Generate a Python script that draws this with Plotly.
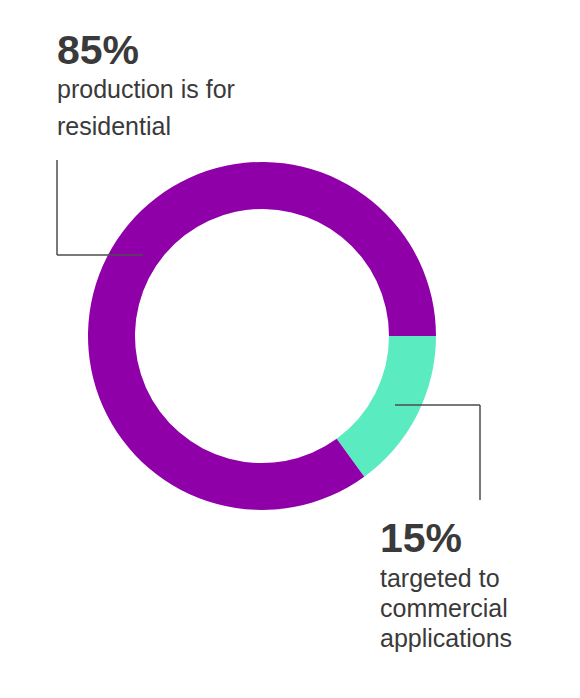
import plotly.graph_objects as go

# page has an 8px body margin, so the figure sits at (8, 8)
OFF = 8
W, H = 580 - OFF, 698 - OFF

# slices, clockwise from 3 o'clock
labels = ["commercial", "residential"]
values = [15, 85]
colors = ["#5bebc0", "#8f00a8"]

# callout text
big_text = ["85%", "15%"]
sub_text = [["production is for", "residential"],
            ["targeted to", "commercial", "applications"]]


def px(x):
    return (x - OFF) / W


def py(y):
    return 1 - (y - OFF) / H


fig = go.Figure()

fig.add_trace(
    go.Pie(
        labels=labels, values=values,
        marker=dict(colors=colors, line=dict(width=0)),
        hole=0.73, sort=False, direction="clockwise", rotation=90,
        textinfo="none", hoverinfo="label+percent", showlegend=False,
        domain=dict(x=[px(88), px(436)], y=[py(510), py(162)]),
    )
)

# leader lines
line_style = dict(color="#4d4d4d", width=1.5)
fig.add_shape(type="line", xref="paper", yref="paper",
              x0=px(57), y0=py(160), x1=px(57), y1=py(255), line=line_style)
fig.add_shape(type="line", xref="paper", yref="paper",
              x0=px(57), y0=py(255), x1=px(143), y1=py(255), line=line_style)
fig.add_shape(type="line", xref="paper", yref="paper",
              x0=px(395), y0=py(405), x1=px(480), y1=py(405), line=line_style)
fig.add_shape(type="line", xref="paper", yref="paper",
              x0=px(480), y0=py(405), x1=px(480), y1=py(500), line=line_style)

txt_col = "#3a3a3a"
font = "Liberation Sans, Arial, sans-serif"


def label(x, y, text, size, bold=False):
    fig.add_annotation(
        x=px(x), y=py(y), xref="paper", yref="paper",
        xanchor="left", yanchor="middle", showarrow=False,
        text="<b>%s</b>" % text if bold else text,
        font=dict(family=font, size=size, color=txt_col),
    )


# top-left callout
label(55, 50, big_text[0], 41, bold=True)
for i, t in enumerate(sub_text[0]):
    label(55, 89 + i * 37, t, 25)

# bottom-right callout
label(378, 538, big_text[1], 41, bold=True)
for i, t in enumerate(sub_text[1]):
    label(378, 578 + i * 30, t, 25)

fig.update_layout(
    width=W, height=H,
    margin=dict(l=0, r=0, t=0, b=0),
    paper_bgcolor="white", plot_bgcolor="white",
)

fig.write_html("out.html")
